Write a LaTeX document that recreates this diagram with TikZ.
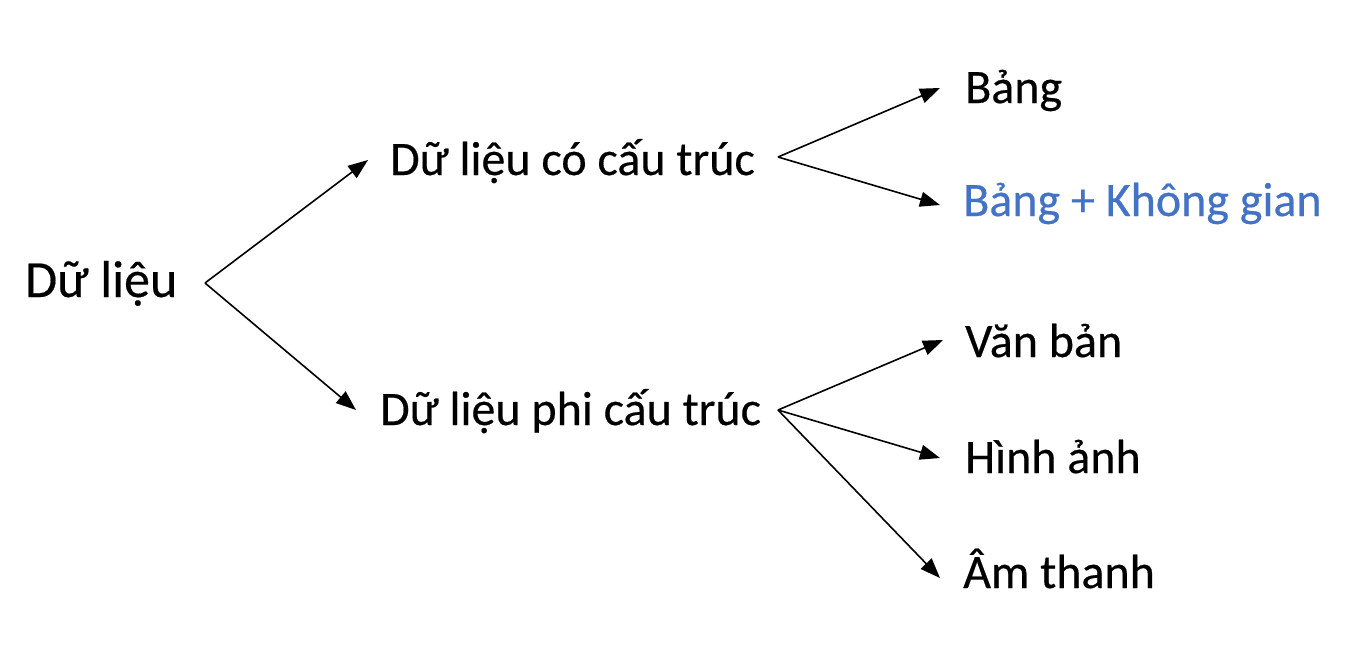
\documentclass[tikz,border=0pt]{standalone}
\usepackage{fontspec}
\setmainfont[FakeBold=0.4]{Carlito}
\usetikzlibrary{arrows.meta}
\definecolor{spaceblue}{HTML}{4472C4}
\tikzset{
  lbl/.style={anchor=base west, inner sep=0pt, font=\fontsize{48}{58}\selectfont},
  arr/.style={line width=1.6pt, -{Triangle[length=20pt,width=15pt]}}
}
\begin{document}
\begin{tikzpicture}[x=1pt, y=-1pt]
\useasboundingbox (0, 0) rectangle (1368, 654);
% labels
\node[lbl, font=\fontsize{52}{62}\selectfont] (data) at (25, 297) {Dữ liệu};
\node[lbl] (struct) at (390, 175) {Dữ liệu có cấu trúc};
\node[lbl] (unstruct) at (380, 425) {Dữ liệu phi cấu trúc};
\node[lbl] (table) at (965, 103) {Bảng};
\node[lbl, text=spaceblue] (tablespace) at (963, 216) {Bảng + Không gian};
\node[lbl] (text) at (965, 357) {Văn bản};
\node[lbl] (image) at (965, 473) {Hình ảnh};
\node[lbl] (sound) at (963, 588) {Âm thanh};
% branch points
\coordinate (fork0) at (205, 283);
\coordinate (fork1) at (778, 157);
\coordinate (fork2) at (778, 410);
% arrows
\draw[arr] (fork0) -- ([shift={(-22,-15)}]struct.base west);
\draw[arr] (fork0) -- ([shift={(-24,-15)}]unstruct.base west);
\draw[arr] (fork1) -- ([shift={(-25,-15)}]table.base west);
\draw[arr] (fork1) -- ([shift={(-23,-11)}]tablespace.base west);
\draw[arr] (fork2) -- ([shift={(-22,-17)}]text.base west);
\draw[arr] (fork2) -- ([shift={(-25,-15)}]image.base west);
\draw[arr] (fork2) -- ([shift={(-23,-10)}]sound.base west);
\end{tikzpicture}
\end{document}
